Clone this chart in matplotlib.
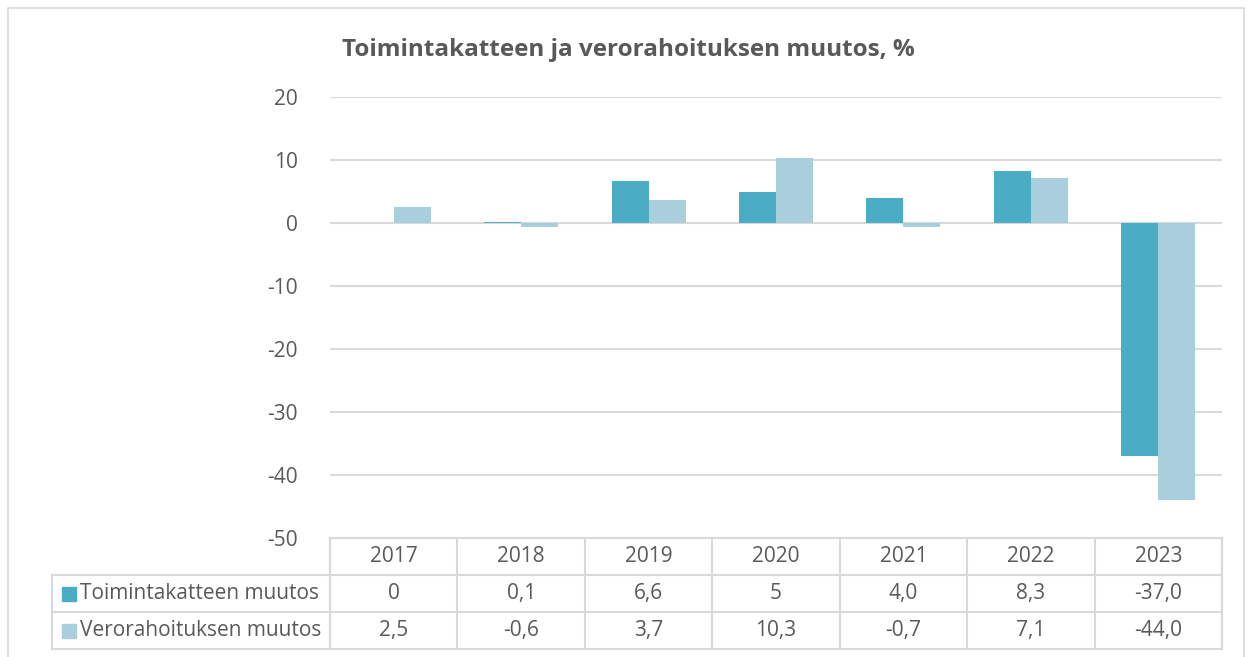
import numpy as np
import matplotlib.pyplot as plt
from matplotlib.patches import Rectangle
from matplotlib.lines import Line2D
import matplotlib.transforms as mtrans

plt.rcParams['font.family'] = ['Open Sans', 'DejaVu Sans']
plt.rcParams['axes.unicode_minus'] = False

years = ['2017', '2018', '2019', '2020', '2021', '2022', '2023']
toimintakate = [0, 0.1, 6.6, 5, 4.0, 8.3, -37.0]
verorahoitus = [2.5, -0.6, 3.7, 10.3, -0.7, 7.1, -44.0]
# labels as shown in the data table
toimintakate_txt = ['0', '0,1', '6,6', '5', '4,0', '8,3', '-37,0']
verorahoitus_txt = ['2,5', '-0,6', '3,7', '10,3', '-0,7', '7,1', '-44,0']
series_names = ['Toimintakatteen muutos', 'Verorahoituksen muutos']

c_dark = '#4BACC6'
c_light = '#A9CFDC'
c_grid = '#D9D9D9'
c_text = '#595959'
fs = 15

W, H = 1248, 657
fig = plt.figure(figsize=(W / 100, H / 100), dpi=100)

def fx(px):
    return px / W

def fy(py):
    return 1 - py / H

# outer chart frame
fig.add_artist(Rectangle((fx(8), fy(700)), fx(1236), 692 / H, transform=fig.transFigure,
                         fill=False, edgecolor=c_grid, lw=1.2))

ax = fig.add_axes([fx(330), fy(538), fx(892), 441 / H])
x = np.arange(len(years))
w = 0.29
ax.bar(x - w / 2, toimintakate, w, color=c_dark, lw=0, zorder=3)
ax.bar(x + w / 2, verorahoitus, w, color=c_light, lw=0, zorder=3)

ax.set_xlim(-0.5, len(years) - 0.5)
ax.set_ylim(-50, 20)
ax.set_yticks(np.arange(-50, 21, 10))
ax.set_xticks([])
ax.yaxis.grid(True, color=c_grid, lw=1.5)
ax.set_axisbelow(True)
for s in ax.spines.values():
    s.set_visible(False)
ax.tick_params(axis='y', length=0, pad=23, labelsize=fs, labelcolor=c_text)

fig.text(fx(628), fy(50), 'Toimintakatteen ja verorahoituksen muutos, %', ha='center', va='center',
         fontsize=17.5, fontweight='bold', color=c_text)

# data table below the axis
bt = mtrans.blended_transform_factory(ax.transData, fig.transFigure)
rows_y = [538, 575, 612, 649]
for i, yy in enumerate(rows_y):
    x0 = 330 if i == 0 else 52
    fig.add_artist(Line2D([fx(x0), fx(1222)], [fy(yy), fy(yy)], transform=fig.transFigure,
                          color=c_grid, lw=1.5))
for b in np.arange(-0.5, len(years), 1.0):
    fig.add_artist(Line2D([b, b], [fy(538), fy(649)], transform=bt, color=c_grid, lw=1.5))
fig.add_artist(Line2D([fx(52), fx(52)], [fy(575), fy(649)], transform=fig.transFigure,
                      color=c_grid, lw=1.5))

for i, yr in enumerate(years):
    fig.text(i, fy(556.5), yr, transform=bt, ha='center', va='center', fontsize=fs, color=c_text)
    fig.text(i, fy(593.5), toimintakate_txt[i], transform=bt, ha='center', va='center',
             fontsize=fs, color=c_text)
    fig.text(i, fy(630.5), verorahoitus_txt[i], transform=bt, ha='center', va='center',
             fontsize=fs, color=c_text)

for name, col, yc in zip(series_names, [c_dark, c_light], [593.5, 630.5]):
    fig.add_artist(Rectangle((fx(62), fy(yc + 7)), fx(14), 14 / H, transform=fig.transFigure,
                             color=col))
    fig.text(fx(80), fy(yc), name, ha='left', va='center', fontsize=fs, color=c_text)

fig.savefig('out.png', dpi=100)
